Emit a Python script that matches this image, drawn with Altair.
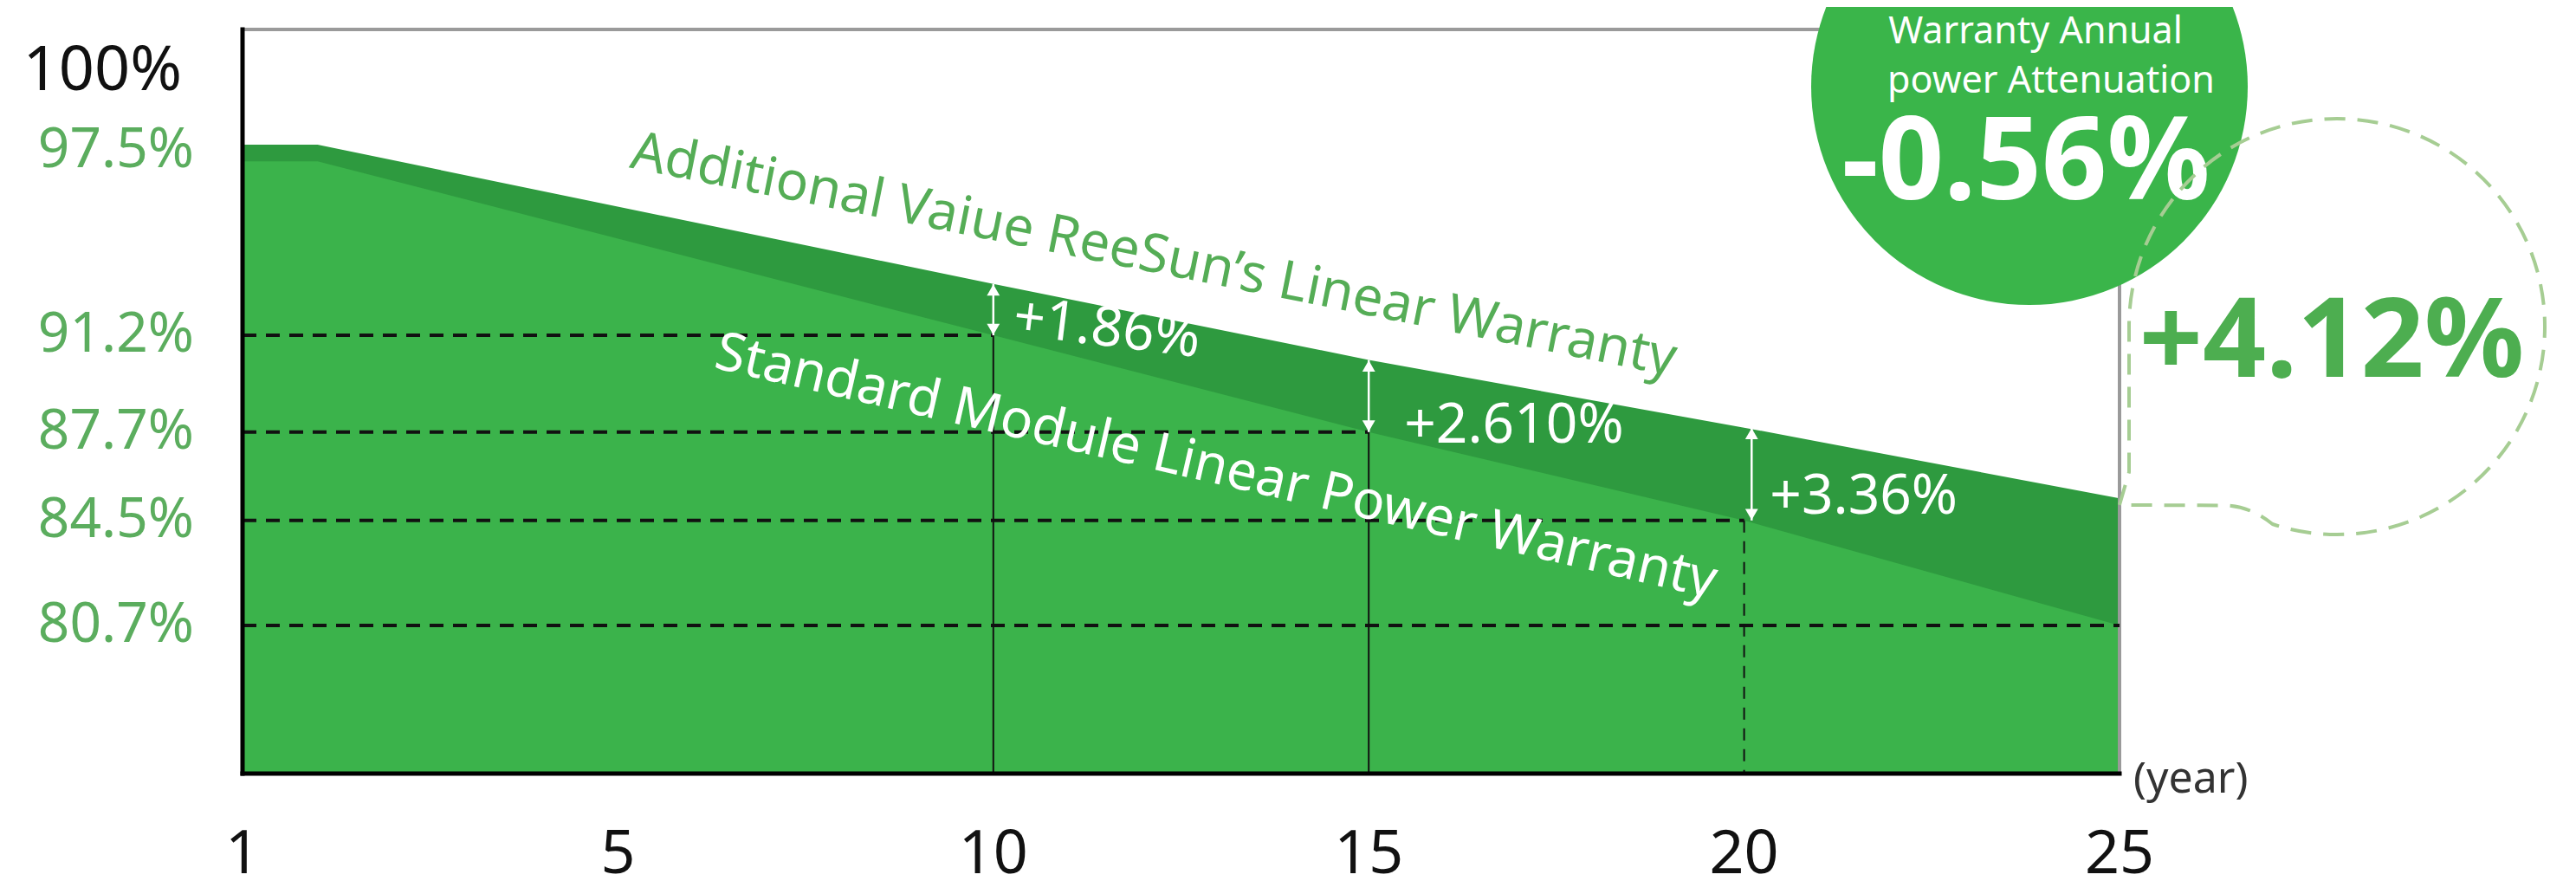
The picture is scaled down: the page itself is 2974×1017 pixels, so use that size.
import altair as alt
import pandas as pd

# ---------------- data ----------------
years = [1, 1.8, 10, 15, 20, 25]
standard = [97.5, 97.5, 91.2, 87.7, 84.5, 80.7]      # Standard Module Linear Power Warranty
reesun = [98.1, 98.1, 93.06, 90.31, 87.86, 85.3]      # ReeSun's Linear Warranty

guide_years = [10, 15, 20, 25]
guide_levels = [91.2, 87.7, 84.5, 80.7]
guide_styles = ["solid", "solid", "dashed", "none"]

gap_years = [10, 15, 20.1]
gap_top = [93.06, 90.31, 87.86]
gap_bottom = [91.2, 87.7, 84.5]
gap_labels = ["+1.86%", "+2.610%", "+3.36%"]

x_ticks = [1, 5, 10, 15, 20, 25]
y_ticks = [80.7, 84.5, 87.7, 91.2, 97.5, 100]
y_tick_labels = ["80.7%", "84.5%", "87.7%", "91.2%", "97.5%", "100%"]

title_top = "Additional Vaiue ReeSun\u2019s Linear Warranty"
title_std = "Standard Module Linear Power Warranty"
circle_lines = ["Warranty Annual", "power Attenuation"]
circle_value = "-0.56%"
bubble_value = "+4.12%"
x_unit = "(year)"

# ---------------- layout / style ----------------
W, H = 2167, 859
Y_MIN, Y_MAX = 75.34, 102.27
FONT = "Noto Sans"
LIGHT = "#3BB34B"
DARK = "#2E9A3F"
CIRCLE = "#3AB54A"
LABEL_GREEN = "#5BAD5E"
TEXT_GREEN = "#55AD56"
BIG_GREEN = "#4DAE50"
BUBBLE = "#A6CD93"
FRAME_GRAY = "#9A9A9A"

xscale = alt.Scale(domain=[1, 5, 25], range=[0, W / 5, W], nice=False, zero=False)
yscale = alt.Scale(domain=[Y_MIN, Y_MAX], nice=False, zero=False)

curve = pd.DataFrame({"year": years, "standard": standard, "reesun": reesun})
guides = pd.DataFrame({"year": guide_years, "level": guide_levels,
                       "style": guide_styles, "start": [x_ticks[0]] * len(guide_years)})
gaps = pd.DataFrame({"year": gap_years, "top": gap_top, "bottom": gap_bottom, "label": gap_labels})
xt = pd.DataFrame({"tick": x_ticks, "label": [str(v) for v in x_ticks]})
yt = pd.DataFrame({"tick": y_ticks, "label": y_tick_labels})
one = pd.DataFrame({"k": [0]})


def X(field):
    return alt.X(field, type="quantitative", scale=xscale, axis=None)


def Y(field):
    return alt.Y(field, type="quantitative", scale=yscale, axis=None)


dark_area = alt.Chart(curve).mark_area(color=DARK, opacity=1).encode(
    x=X("year"), y=Y("reesun"), y2=alt.datum(Y_MIN))
light_area = alt.Chart(curve).mark_area(color=LIGHT, opacity=1).encode(
    x=X("year"), y=Y("standard"), y2=alt.datum(Y_MIN))

frame_top = alt.Chart(one).mark_rule(color=FRAME_GRAY, strokeWidth=4).encode(
    x=alt.value(0), x2=alt.value(W), y=alt.value(0))
frame_right = alt.Chart(one).mark_rule(color=FRAME_GRAY, strokeWidth=4).encode(
    x=alt.value(W), y=alt.value(0), y2=alt.value(H))

h_dashes = alt.Chart(guides).mark_rule(color="#111111", strokeWidth=4, strokeDash=[16, 11]).encode(
    x=X("start"), x2="year", y=Y("level"))
v_solid = alt.Chart(guides[guides["style"] == "solid"]).mark_rule(color="#111111", strokeWidth=2).encode(
    x=X("year"), y=Y("level"), y2=alt.datum(Y_MIN))
v_dashed = alt.Chart(guides[guides["style"] == "dashed"]).mark_rule(
    color="#111111", strokeWidth=2, strokeDash=[14, 10]).encode(
    x=X("year"), y=Y("level"), y2=alt.datum(Y_MIN))

# axis lines (left / bottom, black)
axis_left = alt.Chart(one).mark_rule(color="#000000", strokeWidth=5, strokeCap="square").encode(
    x=alt.value(0), y=alt.value(0), y2=alt.value(H))
axis_bottom = alt.Chart(one).mark_rule(color="#000000", strokeWidth=5, strokeCap="square").encode(
    x=alt.value(0), x2=alt.value(W), y=alt.value(H))

# tick labels
x_labels = alt.Chart(xt).mark_text(font=FONT, fontSize=70, color="#111111", align="center",
                                   baseline="top").encode(
    x=X("tick"), y=alt.value(H + 60), text="label")
y_labels_low = alt.Chart(yt[yt["tick"] < 95]).mark_text(
    font=FONT, fontSize=64, color=LABEL_GREEN, align="right", baseline="middle", dx=-56).encode(
    x=alt.value(0), y=Y("tick"), text="label")
y_label_975 = alt.Chart(yt[yt["tick"] == 97.5]).mark_text(
    font=FONT, fontSize=64, color=LABEL_GREEN, align="right", baseline="middle", dx=-56, dy=-12).encode(
    x=alt.value(0), y=Y("tick"), text="label")
y_label_100 = alt.Chart(yt[yt["tick"] == 100]).mark_text(
    font=FONT, fontSize=72, color="#111111", align="right", baseline="middle", dx=-70, dy=-24).encode(
    x=alt.value(0), y=Y("tick"), text="label")

arrow_shaft = alt.Chart(gaps).mark_rule(color="white", strokeWidth=2.5).encode(
    x=X("year"), y=Y("top"), y2="bottom")
arrow_up = alt.Chart(gaps).mark_point(shape="triangle-up", size=220, filled=True, color="white",
                                      opacity=1, yOffset=7).encode(x=X("year"), y=Y("top"))
arrow_down = alt.Chart(gaps).mark_point(shape="triangle-down", size=220, filled=True, color="white",
                                        opacity=1, yOffset=-7).encode(x=X("year"), y=Y("bottom"))

label_offsets = [(28, 36, 7), (41, 77, 0), (21, 80, 0)]  # dx, dy, angle
gap_texts = []
for i, (dx, dy, ang) in enumerate(label_offsets):
    gap_texts.append(
        alt.Chart(gaps.iloc[[i]]).mark_text(font=FONT, fontSize=64, color="white", align="left",
                                            baseline="middle", dx=dx, dy=dy, angle=ang).encode(
            x=X("year"), y=Y("top"), text="label"))

txt_top = alt.Chart(one).mark_text(text=title_top, font=FONT, fontSize=62, color=TEXT_GREEN,
                                   angle=11.3, align="center", baseline="middle").encode(
    x=alt.value(1052), y=alt.value(261))
txt_std = alt.Chart(one).mark_text(text=title_std, font=FONT, fontSize=62, color="white",
                                   angle=13, align="center", baseline="middle").encode(
    x=alt.value(1124), y=alt.value(505))

circle = alt.Chart(one).mark_point(shape="circle", size=504 ** 2, filled=True, color=CIRCLE,
                                   opacity=1, strokeWidth=0).encode(x=alt.value(2063), y=alt.value(66))
c_line1 = alt.Chart(one).mark_text(text=circle_lines[0], font=FONT, fontSize=43, color="white",
                                   align="center", baseline="alphabetic").encode(
    x=alt.value(2070), y=alt.value(16))
c_line2 = alt.Chart(one).mark_text(text=circle_lines[1], font=FONT, fontSize=43, color="white",
                                   align="center", baseline="alphabetic").encode(
    x=alt.value(2088), y=alt.value(73))
c_value = alt.Chart(one).mark_text(text=circle_value, font=FONT, fontSize=132, fontWeight="bold",
                                   color="white", align="center", baseline="alphabetic").encode(
    x=alt.value(2059), y=alt.value(196))

BUBBLE_PATH = ("M -1.046 0.858 L -1 0.7 L -1 0 C -1 -0.5523 -0.5523 -1 0 -1 "
               "C 0.5523 -1 1 -0.5523 1 0 C 1 0.5523 0.5523 1 0 1 "
               "Q -0.16 1 -0.31 0.95 Q -0.42 0.86 -0.55 0.86 L -1.046 0.858")
bubble = alt.Chart(one).mark_point(shape=BUBBLE_PATH, size=480 ** 2, filled=False, stroke=BUBBLE,
                                   strokeWidth=4, strokeDash=[24, 14], opacity=1).encode(
    x=alt.value(2418), y=alt.value(343))
b_value = alt.Chart(one).mark_text(text=bubble_value, font=FONT, fontSize=128, fontWeight="bold",
                                   color=BIG_GREEN, align="center", baseline="alphabetic").encode(
    x=alt.value(2412), y=alt.value(401))

unit = alt.Chart(one).mark_text(text=x_unit, font=FONT, fontSize=50, color="#333333",
                                align="left", baseline="middle").encode(
    x=alt.value(2183), y=alt.value(866))

chart = alt.layer(
    dark_area, light_area, frame_top, frame_right, h_dashes, v_solid, v_dashed,
    axis_left, axis_bottom, x_labels, y_labels_low, y_label_975, y_label_100,
    arrow_shaft, arrow_up, arrow_down, *gap_texts,
    txt_top, txt_std, circle, c_line1, c_line2, c_value, bubble, b_value, unit
).properties(
    width=W, height=H,
    padding={"left": 272, "top": 26, "right": 519, "bottom": 124},
    autosize=alt.AutoSizeParams(type="none"),
    background="white",
).configure_view(stroke=None).configure(font=FONT)

chart.save("out.html", embed_options={"renderer": "svg", "actions": False})
